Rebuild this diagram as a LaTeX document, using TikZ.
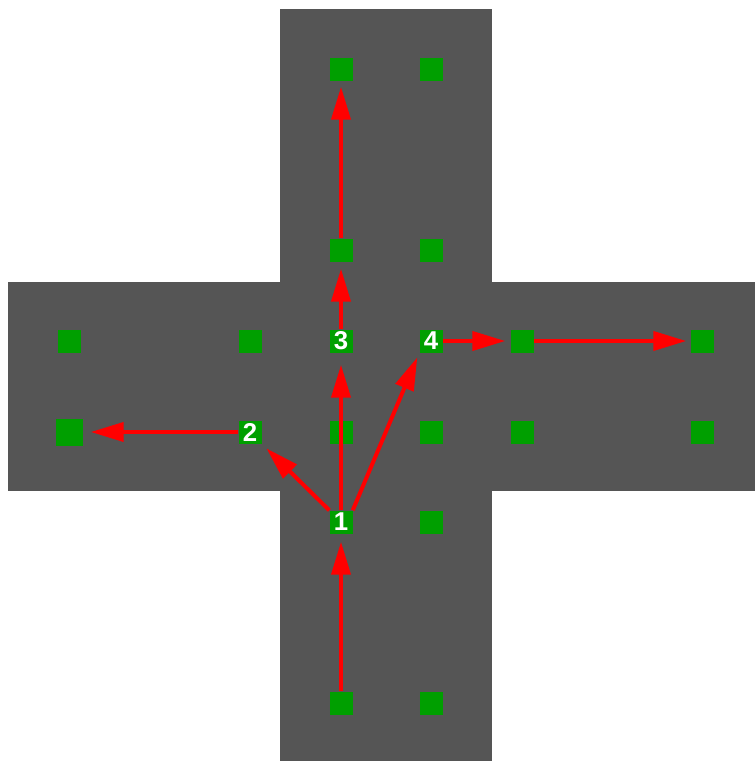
\documentclass[tikz,border=0pt]{standalone}
\usepackage{fontspec}
\setmainfont{Liberation Sans}
\usetikzlibrary{arrows.meta}
\definecolor{Road}{HTML}{555555}
\definecolor{Spot}{HTML}{009F00}
\definecolor{Red}{HTML}{FF0000}

\begin{document}
\begin{tikzpicture}[x=0.03cm,y=-0.03cm,
  spot/.style={fill=Spot,minimum size=0.69cm,inner sep=0pt,text=white,
    font=\fontsize{22}{22}\selectfont\bfseries},
  move/.style={Red,line width=0.12cm,-{Triangle[length=0.99cm,width=0.57cm]}}]
  \useasboundingbox (0,0) rectangle (755,761);
  \fill[white] (0,0) rectangle (755,761);
  % the crossing
  \fill[Road] (280,9) rectangle (492,761);
  \fill[Road] (8,282) rectangle (755,491);
  % plain squares
  \foreach \n/\x/\y in {no1/341/70,no2/431/70,ni1/341/250,ni2/431/250,
      wo1/69/341,wi1/250/341,c3/341/432,c4/431/432,ei1/522/341,ei2/522/432,
      eo1/702/341,eo2/702/432,si2/431/522,so1/341/703,so2/431/703}
    \node[spot] (\n) at (\x,\y) {};
  \node[spot,minimum size=0.81cm] (wo2) at (69,432) {};
  % numbered squares
  \node[spot] (s1) at (341,522) {1};
  \node[spot] (s2) at (250,432) {2};
  \node[spot] (s3) at (341,341) {3};
  \node[spot] (s4) at (431,341) {4};
  % moves
  \draw[move,shorten >=0.24cm] (so1) -- (s1);
  \draw[move,shorten >=0.36cm] (s1) -- (s3);
  \draw[move,shorten >=0.21cm] (s3) -- (ni1);
  \draw[move,shorten >=0.15cm] (ni1) -- (no1);
  \draw[move,shorten >=0.2cm] (s1.north west) -- (s2.south east);
  \draw[move,shorten >=0.24cm] (s2) -- (wo2);
  \draw[move,shorten >=0.15cm] (s1.north east) -- (s4.south west);
  \draw[move,shorten >=0.15cm] (s4) -- (ei1);
  \draw[move,shorten >=0.12cm] (ei1) -- (eo1);
\end{tikzpicture}
\end{document}
